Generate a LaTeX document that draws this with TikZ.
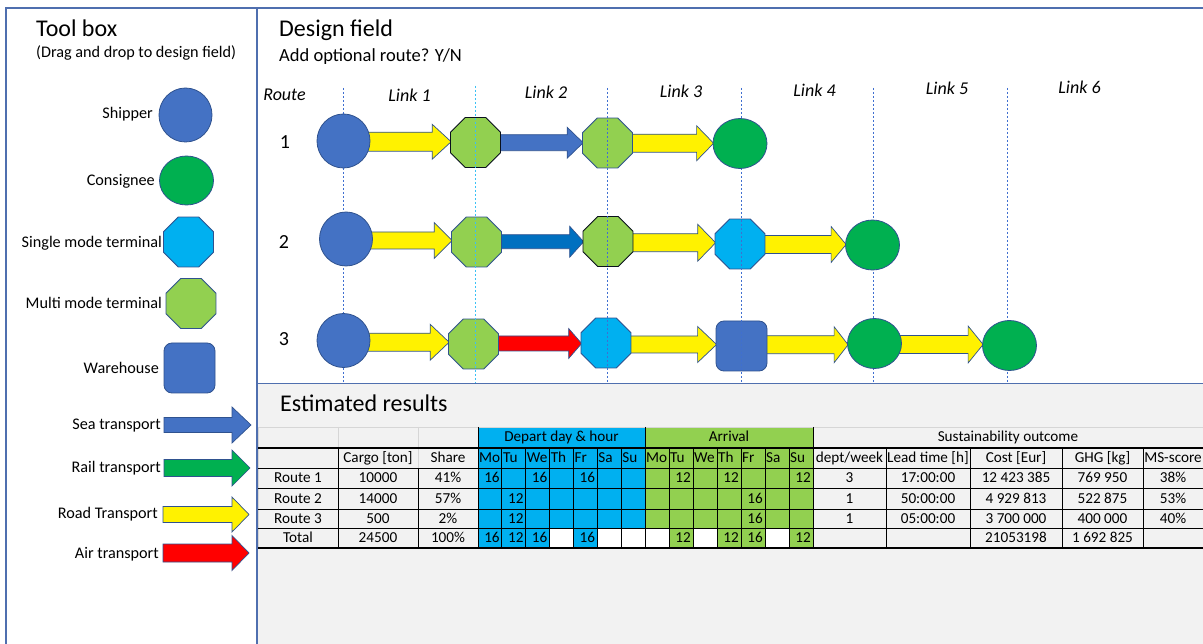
\documentclass[tikz,border=0pt]{standalone}
\usepackage{fontspec}
\setmainfont{Carlito}
\usetikzlibrary{shapes.geometric,calc}
\pgfdeclarelayer{back}
\pgfdeclarelayer{bg}
\pgfsetlayers{back,bg,main}
\definecolor{sblue}{HTML}{4472C4}
\definecolor{sedge}{HTML}{2F528F}
\definecolor{cgreen}{HTML}{00B050}
\definecolor{tcyan}{HTML}{00B0F0}
\definecolor{lgreen}{HTML}{92D050}
\definecolor{dblue}{HTML}{0070C0}
\definecolor{panel}{HTML}{F2F2F2}
\definecolor{framec}{HTML}{4F6FAF}
\definecolor{gridc}{HTML}{D6D6D6}
\definecolor{lcyan}{HTML}{3CC0F5}
\definecolor{guidec}{HTML}{3F6FD0}
\newcommand\fs[1]{\fontsize{#1}{#1}\selectfont}
\tikzset{
 shp/.style={draw=sedge, line width=0.8pt, inner sep=0pt},
 shipper/.style={shp, ellipse, fill=sblue, minimum width=53pt, minimum height=54pt},
 consignee/.style={shp, ellipse, fill=cgreen, minimum width=54pt, minimum height=50pt},
 oct/.style={shp, regular polygon, regular polygon sides=8, minimum size=54pt},
 smt/.style={oct, fill=tcyan},
 mmt/.style={oct, fill=lgreen},
 warehouse/.style={shp, rectangle, rounded corners=8pt, fill=sblue, minimum width=51pt, minimum height=50pt},
 lbl/.style={inner sep=0pt, font=\fs{16.2}, anchor=east, text height=12pt, text depth=3pt},
 linklbl/.style={inner sep=0pt, font=\fs{18}\itshape},
 guideline/.style={draw=guidec, line width=1pt, dash pattern=on 2pt off 2pt},
 tabtxt/.style={inner sep=0pt, font=\fs{15.2}, text height=11pt, text depth=2pt},
 arrowline/.style={draw=sedge, line width=0.7pt, line join=miter},
 framel/.style={draw=framec, line width=1.2pt},
 gridl/.style={draw=gridc, line width=0.8pt},
 blackl/.style={draw=black, line width=0.8pt},
 thickl/.style={draw=black, line width=1.6pt},
}
\newcommand\tarrow[7]{% x1, x2, xh, yc, shaft half, head half, colour
 \draw[arrowline, fill=#7] (#1,#4-#5) -- (#3,#4-#5) -- (#3,#4-#6) -- (#2,#4) -- (#3,#4+#6) -- (#3,#4+#5) -- (#1,#4+#5) -- cycle;}
\newcommand\larrow[6]{% from, to, colour, shaft half, head half, head length
 \begin{pgfonlayer}{bg}
 \draw[arrowline, fill=#3] let \p1=(#1.east), \p2=(#2.west), \p3=($(#1.east)!0.5!(#2.west)$) in
 (\x1-3pt,\y3+#4pt) -- (\x2-#6pt,\y3+#4pt) -- (\x2-#6pt,\y3+#5pt) -- (\x2+1pt,\y3) -- (\x2-#6pt,\y3-#5pt) -- (\x2-#6pt,\y3-#4pt) -- (\x1-3pt,\y3-#4pt) -- cycle;
 \end{pgfonlayer}}
\begin{document}
\begin{tikzpicture}[x=1pt,y=-1pt]
\useasboundingbox (0,0) rectangle (1203,644);
\begin{pgfonlayer}{back}
\fill[white] (0,0) rectangle (1203,644);
\fill[panel] (258,383.5) rectangle (1203,644);
\end{pgfonlayer}
% frames
\draw[framel] (6,650) -- (6,8) -- (1210,8);
\draw[framel] (257,650) -- (257,8);
\draw[framel] (257,383.5) -- (1210,383.5);

% ---------------- Tool box ----------------
\node[inner sep=0pt, anchor=base west, font=\fs{24}] (tbtitle) at (36,37) {Tool box};
\node[inner sep=0pt, anchor=west, font=\fs{16.2}] (tbsub) at (36,53) {(Drag and drop to design field)};
\node[shipper] (tbS) at (185.5,115) {};
\node[lbl] (tbSl) at (153,114) {Shipper};
\node[consignee, minimum height=49pt] (tbC) at (186.5,180.5) {};
\node[lbl] (tbCl) at (155,181) {Consignee};
\node[smt] (tbT) at (188.5,242) {};
\node[lbl] (tbTl) at (162,243) {Single mode terminal};
\node[mmt] (tbM) at (191,303.5) {};
\node[lbl] (tbMl) at (162,304.5) {Multi mode terminal};
\node[warehouse] (tbW) at (189.5,368) {};
\node[lbl] (tbWl) at (159,369.5) {Warehouse};
\tarrow{164}{251}{232}{425}{7.5}{18}{sblue}
\node[lbl] (tbSea) at (161,425.5) {Sea transport};
\tarrow{164}{250}{232}{468}{8.5}{18}{cgreen}
\node[lbl] (tbRail) at (161,468) {Rail transport};
\tarrow{163}{249}{232}{514.5}{8}{17.5}{yellow}
\node[lbl] (tbRoad) at (158,513.5) {Road Transport};
\tarrow{163}{249}{232}{553}{9}{17.5}{red}
\node[lbl] (tbAir) at (159,553.5) {Air transport};

% ---------------- Design field ----------------
\node[inner sep=0pt, anchor=base west, font=\fs{24}] (dftitle) at (279,37) {Design field};
\node[inner sep=0pt, anchor=west, font=\fs{18.5}] (dfsub) at (279,57) {Add optional route? Y/N};
\node[linklbl] (hRoute) at (284.5,95) {Route};
\node[linklbl] (hL1) at (409.5,95) {Link 1};
\node[linklbl] (hL2) at (546,92) {Link 2};
\node[linklbl] (hL3) at (681,91) {Link 3};
\node[linklbl] (hL4) at (814.5,90) {Link 4};
\node[linklbl] (hL5) at (947,88) {Link 5};
\node[linklbl] (hL6) at (1079.5,87) {Link 6};
\node[inner sep=0pt, font=\fs{20}] (n1) at (285,142) {1};
\node[inner sep=0pt, font=\fs{20}] (n2) at (284,242) {2};
\node[inner sep=0pt, font=\fs{20}] (n3) at (284,339) {3};

% terminals and warehouse
\node[mmt, draw=black!80!sedge] (r1b) at (475.5,142.5) {};
\node[mmt] (r1c) at (607.5,143) {};
\node[mmt] (r2b) at (476.5,242) {};
\node[mmt, draw=black!80!sedge] (r2c) at (608,241.5) {};
\node[smt] (r2d) at (740,244) {};
\node[mmt] (r3b) at (473.5,344) {};
\node[smt] (r3c) at (606,343) {};
\node[warehouse] (r3d) at (741.5,346) {};

% guide lines
\draw[guideline] (343,88) -- (343,383);
\draw[guideline, draw=lcyan] (475,86) -- (475,383);
\draw[guideline] (607,88) -- (607,383);
\draw[guideline] (741,88) -- (741,383);
\draw[guideline] (873,88) -- (873,383);
\draw[guideline] (1007,88) -- (1007,383);

% shippers and consignees
\node[shipper] (r1a) at (343.5,141) {};
\node[consignee] (r1d) at (740,143.5) {};
\node[shipper] (r2a) at (346,239) {};
\node[consignee] (r2e) at (872.5,245) {};
\node[shipper] (r3a) at (343.5,340.5) {};
\node[consignee] (r3e) at (874.5,343.5) {};
\node[consignee] (r3f) at (1009.5,345.5) {};

% links
\larrow{r1a}{r1b}{yellow}{9.5}{17.5}{18}
\larrow{r1b}{r1c}{sblue}{8}{15.5}{15}
\larrow{r1c}{r1d}{yellow}{9}{17.5}{16}
\larrow{r2a}{r2b}{yellow}{8.5}{18}{17}
\larrow{r2b}{r2c}{dblue}{7}{15.5}{13}
\larrow{r2c}{r2d}{yellow}{9}{18.5}{17}
\larrow{r2d}{r2e}{yellow}{9}{18}{14}
\larrow{r3a}{r3b}{yellow}{9}{18}{18}
\larrow{r3b}{r3c}{red}{7.5}{15}{12}
\larrow{r3c}{r3d}{yellow}{8.5}{18}{18}
\larrow{r3d}{r3e}{yellow}{9}{18}{13}
\larrow{r3e}{r3f}{yellow}{9}{18.5}{14}

% ---------------- Estimated results ----------------
\node[inner sep=0pt, anchor=west, font=\fs{24}] (ertitle) at (280,403) {Estimated results};

% coloured cells
\fill[tcyan] (478,427) rectangle (645,528);
\fill[lgreen] (645,427) rectangle (813,528);
\foreach \i in {0,1,2,4} \fill[tcyan] ({478+23.857*\i},528) rectangle ({478+23.857*(\i+1)},548);
\foreach \i in {3,5,6} \fill[white] ({478+23.857*\i},528) rectangle ({478+23.857*(\i+1)},548);
\foreach \i in {1,3,4,6} \fill[lgreen] ({645+24*\i},528) rectangle ({645+24*(\i+1)},548);
\foreach \i in {0,2,5} \fill[white] ({645+24*\i},528) rectangle ({645+24*(\i+1)},548);

% light grid
\foreach \yy in {427,448,468,488,509,528,548} \draw[gridl] (258,\yy) -- (1203,\yy);
\foreach \xx in {258,338,418} \draw[gridl] (\xx,427) -- (\xx,548);
% black lines
\foreach \yy in {468,488,509,528} \draw[blackl] (258,\yy) -- (1203,\yy);
\draw[thickl] (258,448) -- (1203,448);
\draw[thickl] (258,548) -- (1203,548);
\draw[blackl] (338,448) -- (338,548);
\draw[blackl] (418,468) -- (418,548);
\draw[blackl] (478,427) -- (478,548);
\draw[blackl] (645,427) -- (645,548);
\draw[blackl] (813,427) -- (813,548);
\foreach \i in {1,...,6} {
 \draw[blackl] ({478+23.857*\i},448) -- ({478+23.857*\i},548);
 \draw[blackl] ({645+24*\i},448) -- ({645+24*\i},548);
}
\foreach \xx in {886,970,1062,1143} \draw[blackl] (\xx,448) -- (\xx,548);

% header texts
\node[tabtxt] (thDep) at (561.5,437.5) {Depart day \& hour};
\node[tabtxt] (thArr) at (729,437.5) {Arrival};
\node[tabtxt] (thSus) at (1008,437.5) {Sustainability outcome};
\node[tabtxt] (thCargo) at (378,458) {Cargo [ton]};
\node[tabtxt] (thShare) at (448,458) {Share};
\foreach \d [count=\i from 0] in {Mo,Tu,We,Th,Fr,Sa,Su} {
 \node[tabtxt, anchor=west] (dd\i) at ({478+23.857*\i+1},458) {\d};
 \node[tabtxt, anchor=west] (ad\i) at ({645+24*\i+1},458) {\d};
}
\node[tabtxt] (thDw) at (849.5,458) {dept/week};
\node[tabtxt] (thLt) at (928,458) {Lead time [h]};
\node[tabtxt] (thCo) at (1016,458) {Cost [Eur]};
\node[tabtxt] (thGhg) at (1102.5,458) {GHG [kg]};
\node[tabtxt] (thMs) at (1173,458) {MS-score};

% row texts
\foreach \r/\yy/\c/\s/\dw/\lt/\co/\gh/\ms [count=\k] in {
 Route 1/478/10000/41\%/3/17:00:00/12 423 385/769 950/38\%,
 Route 2/498.5/14000/57\%/1/50:00:00/4 929 813/522 875/53\%,
 Route 3/518.5/500/2\%/1/05:00:00/3 700 000/400 000/40\%} {
 \node[tabtxt] (rn\k) at (298,\yy) {\r};
 \node[tabtxt] (rc\k) at (378,\yy) {\c};
 \node[tabtxt] (rs\k) at (448,\yy) {\s};
 \node[tabtxt] (rw\k) at (849.5,\yy) {\dw};
 \node[tabtxt] (rl\k) at (928,\yy) {\lt};
 \node[tabtxt] (ro\k) at (1016,\yy) {\co};
 \node[tabtxt] (rg\k) at (1102.5,\yy) {\gh};
 \node[tabtxt] (rm\k) at (1173,\yy) {\ms};
}
\node[tabtxt] (tn) at (298,538) {Total};
\node[tabtxt] (tc) at (378,538) {24500};
\node[tabtxt] (ts) at (448,538) {100\%};
\node[tabtxt] (to) at (1016,538) {21053198};
\node[tabtxt] (tg) at (1102.5,538) {1 692 825};

% day numbers
\foreach \yy/\ii/\v [count=\k] in {478/0/16,478/2/16,478/4/16,498.5/1/12,518.5/1/12,538/0/16,538/1/12,538/2/16,538/4/16}
 \node[tabtxt, anchor=east] (dn\k) at ({478+23.857*(\ii+1)-2},\yy) {\v};
\foreach \yy/\ii/\v [count=\k] in {478/1/12,478/3/12,478/6/12,498.5/4/16,518.5/4/16,538/1/12,538/3/12,538/4/16,538/6/12}
 \node[tabtxt, anchor=east] (an\k) at ({645+24*(\ii+1)-2},\yy) {\v};
\end{tikzpicture}
\end{document}
